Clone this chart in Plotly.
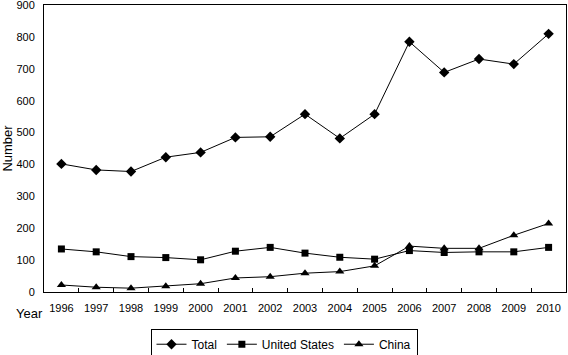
import plotly.graph_objects as go

years = ["1996", "1997", "1998", "1999", "2000", "2001", "2002", "2003",
         "2004", "2005", "2006", "2007", "2008", "2009", "2010"]
total = [402, 383, 378, 423, 438, 485, 487, 558, 482, 558, 785, 689, 731, 715, 810]
united_states = [135, 126, 111, 108, 101, 128, 140, 122, 109, 103, 130, 124, 126, 126, 140]
china = [22, 15, 12, 18, 26, 44, 48, 59, 64, 82, 144, 137, 137, 178, 215]

y_ticks = [0, 100, 200, 300, 400, 500, 600, 700, 800, 900]

fig = go.Figure()
series = [("Total", total, "diamond", 8), ("United States", united_states, "square", 7),
          ("China", china, "triangle-up", 8)]
for name, vals, sym, sz in series:
    fig.add_trace(go.Scatter(x=years, y=vals, name=name, mode="lines+markers",
                             line=dict(color="black", width=1),
                             marker=dict(symbol=sym, size=sz, color="black")))

fig.update_layout(
    width=568, height=355,
    margin=dict(l=44, r=2, t=5, b=63),
    paper_bgcolor="white", plot_bgcolor="white",
    font=dict(family="Liberation Sans, Arial, sans-serif", size=11, color="black"),
    showlegend=True,
    legend=dict(orientation="h", x=0.5, xanchor="center", xref="container",
                y=0.074, yanchor="top", yref="container",
                bordercolor="black", borderwidth=1, font=dict(size=12),
                tracegroupgap=0),
)
fig.update_xaxes(type="category", range=[-0.5, 14.5], tickson="boundaries",
                 ticks="inside", ticklen=4,
                 tickcolor="black", showline=True, linecolor="black", linewidth=1,
                 mirror=True, showgrid=False, tickfont=dict(size=11),
                 tickangle=0, automargin=False, ticklabelstandoff=6)
fig.update_yaxes(range=[0, 900.5], tickvals=y_ticks, showline=True, linecolor="black",
                 linewidth=1, mirror=True, showgrid=False, zeroline=False, ticks="",
                 tickfont=dict(size=11), ticklabelstandoff=6, automargin=False,
                 ticklabeloverflow="allow",
                 title=dict(text="Number", font=dict(size=13), standoff=6))
fig.add_annotation(text="Year", xref="paper", yref="paper", x=0.002, y=-0.076,
                   xanchor="right", yanchor="middle", showarrow=False,
                   font=dict(size=13))
fig.write_html("out.html", config={"displayModeBar": False},
               post_script="document.body.style.margin='0';document.body.style.overflow='hidden';")
